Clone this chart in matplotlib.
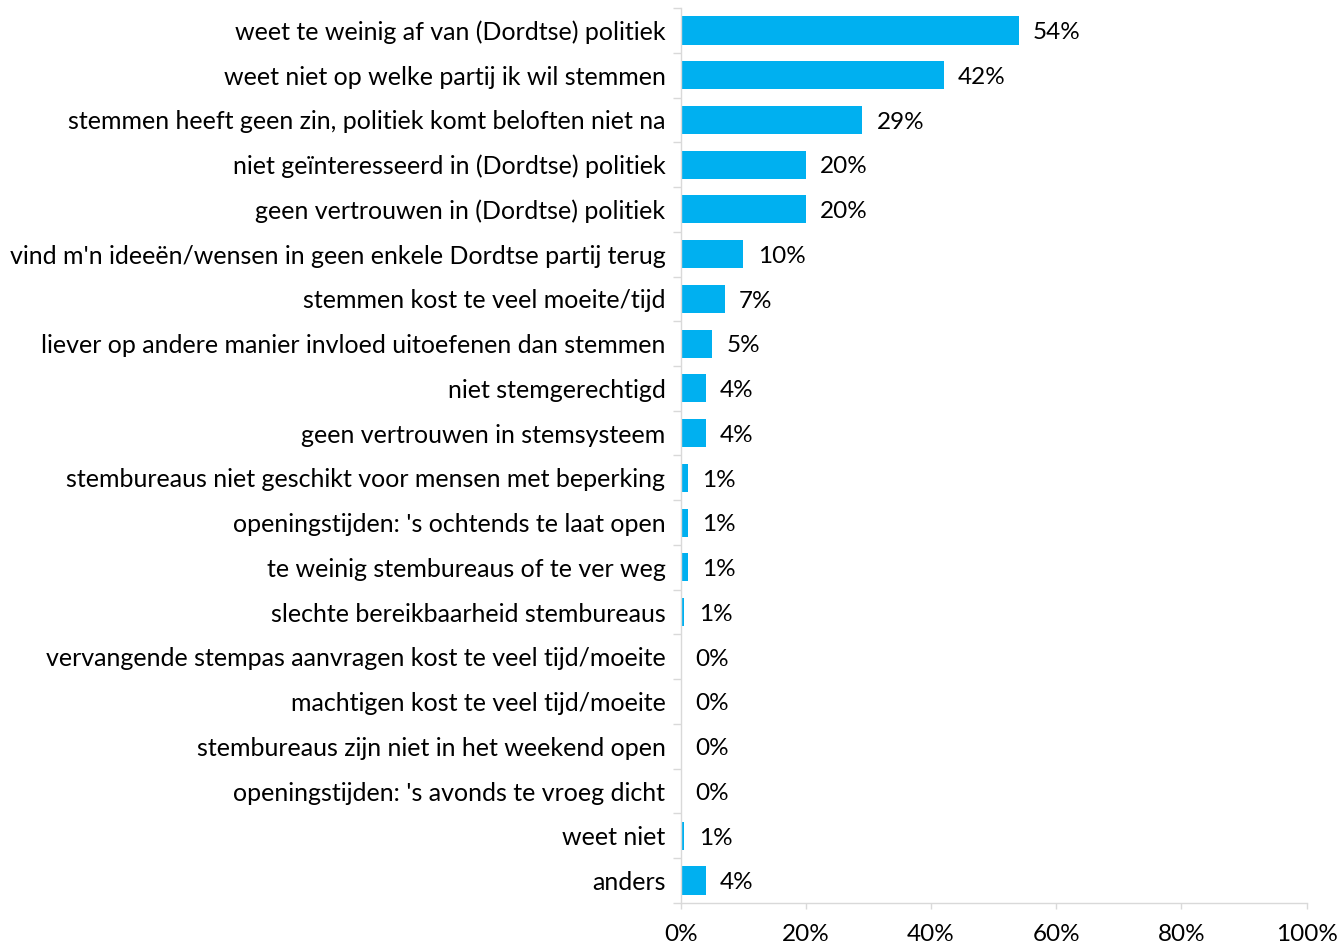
import numpy as np
import matplotlib.pyplot as plt

plt.rcParams['font.family'] = ['Lato', 'DejaVu Sans']

labels = [
    "weet te weinig af van (Dordtse) politiek",
    "weet niet op welke partij ik wil stemmen",
    "stemmen heeft geen zin, politiek komt beloften niet na",
    "niet geïnteresseerd in (Dordtse) politiek",
    "geen vertrouwen in (Dordtse) politiek",
    "vind m'n ideeën/wensen in geen enkele Dordtse partij terug",
    "stemmen kost te veel moeite/tijd",
    "liever op andere manier invloed uitoefenen dan stemmen",
    "niet stemgerechtigd",
    "geen vertrouwen in stemsysteem",
    "stembureaus niet geschikt voor mensen met beperking",
    "openingstijden: 's ochtends te laat open",
    "te weinig stembureaus of te ver weg",
    "slechte bereikbaarheid stembureaus",
    "vervangende stempas aanvragen kost te veel tijd/moeite",
    "machtigen kost te veel tijd/moeite",
    "stembureaus zijn niet in het weekend open",
    "openingstijden: 's avonds te vroeg dicht",
    "weet niet",
    "anders",
]
values = [54, 42, 29, 20, 20, 10, 7, 5, 4, 4, 1.1, 1.1, 1.1, 0.6, 0, 0, 0, 0, 0.6, 4]
xticks = [0, 20, 40, 60, 80, 100]

fig = plt.figure(figsize=(13.4, 9.46), dpi=100)
ax = fig.add_axes([0.508, 0.0455, 0.467, 0.946])

y = np.arange(len(labels))
ax.barh(y, values, height=0.63, color='#00B0F0')
for yi, v in zip(y, values):
    ax.text(v + 2.3, yi + 0.05, f"{v:.0f}%", va='center', ha='left', fontsize=17.5, color='black')

ax.set_ylim(len(labels) - 0.5, -0.5)
ax.set_xlim(0, 100)
ax.set_yticks(y)
ax.set_yticklabels(labels, fontsize=18)
ax.set_yticks(np.arange(len(labels) + 1) - 0.5, minor=True)
ax.tick_params(axis='y', which='major', length=0, pad=11)
ax.tick_params(axis='y', which='minor', length=6, color='#d9d9d9', width=1)
ax.set_xticks(xticks)
ax.set_xticklabels([f"{t}%" for t in xticks], fontsize=17.5)
ax.tick_params(axis='x', length=4, color='#d9d9d9', width=1, pad=11)

for s in ['top', 'right']:
    ax.spines[s].set_visible(False)
for s in ['left', 'bottom']:
    ax.spines[s].set_color('#d9d9d9')
    ax.spines[s].set_linewidth(1)

fig.savefig('out.png', dpi=100)
